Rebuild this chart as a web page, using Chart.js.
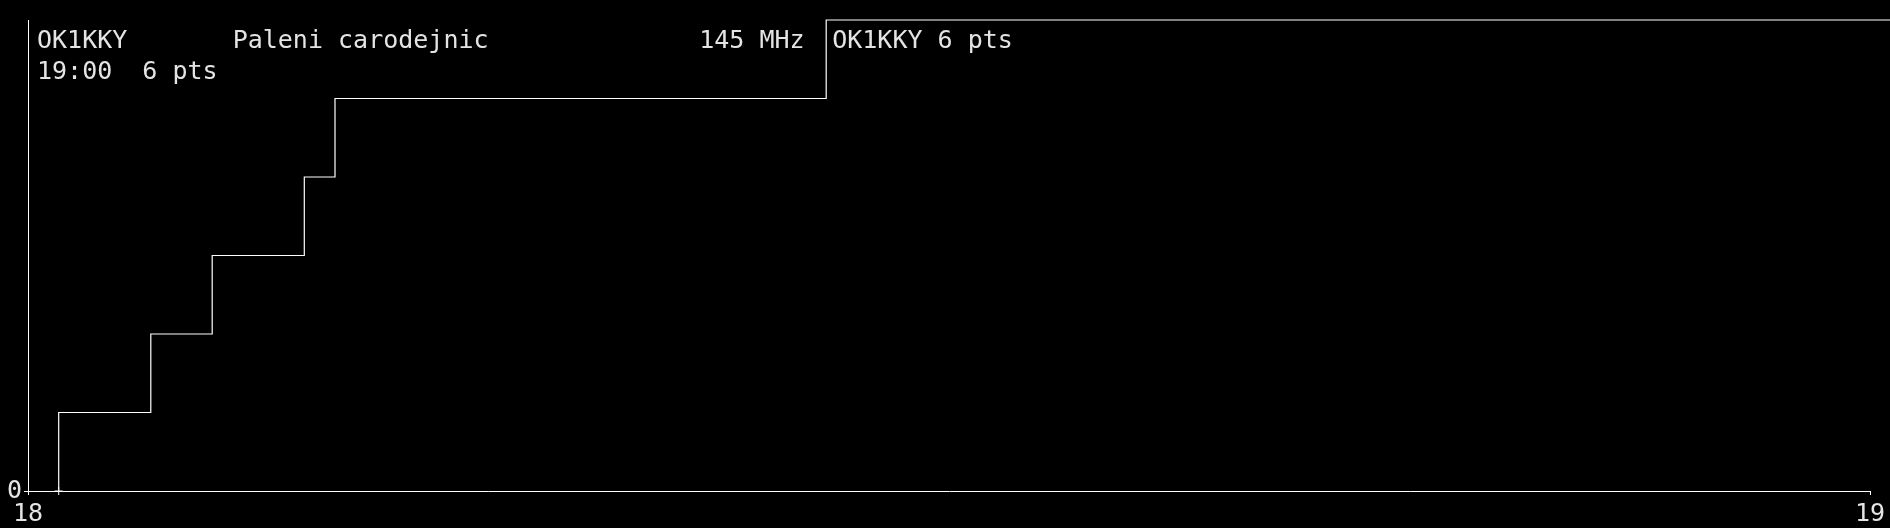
<!DOCTYPE html>
<html>
<head>
<meta charset="utf-8">
<script src="https://cdn.jsdelivr.net/npm/chart.js@4"></script>
<style>
  html, body { margin: 0; padding: 0; background: #000; }
  canvas { display: block; }
</style>
</head>
<body>
<canvas id="scoreChart" width="1890" height="528"></canvas>
<script>
// Contest info
const callsign = 'OK1KKY';
const contestName = 'Paleni carodejnic';
const band = '145 MHz';
const endTime = '19:00';

// QSO times and running score (stepped line)
const qsoTimes = ['18:01', '18:01', '18:04', '18:06', '18:09', '18:10', '18:26', '19:01'];
const scoreValues = [0, 1, 2, 3, 4, 5, 6, 6];

// Axis ticks
const xTickLabels = ['18', '19'];
const yTickValues = [0];

const FONT = '"DejaVu Sans Mono", "Liberation Mono", monospace';
const TEXT = '#e4e4e4';

function toMinutes(t) {
    const parts = t.split(':').map(Number);
    return (parts[0] - 18) * 60 + parts[1];
}

const points = qsoTimes.map((t, i) => ({ x: toMinutes(t), y: scoreValues[i] }));
const totalScore = scoreValues[scoreValues.length - 1];
const lastQso = points[points.length - 2].x;

// Header text + label next to last step
const headerPlugin = {
    id: 'header',
    afterDraw(chart) {
        const c = chart.ctx;
        c.save();
        c.font = '25px ' + FONT;
        c.fillStyle = TEXT;
        c.textBaseline = 'alphabetic';
        const cw = c.measureText('M').width;
        const x0 = 37;
        c.fillText(callsign, x0, 48);
        c.fillText(contestName, x0 + 13 * cw, 48);
        c.fillText(band, x0 + 44 * cw, 48);
        c.fillText(endTime, x0, 79);
        c.fillText(totalScore + ' pts', x0 + 7 * cw, 79);

        const px = chart.scales.x.getPixelForValue(lastQso);
        c.fillText(callsign + ' ' + totalScore + ' pts', px + 6, 48);
        c.restore();
    }
};

new Chart(document.getElementById('scoreChart'), {
    type: 'line',
    data: {
        datasets: [{
            data: points,
            borderColor: '#ffffff',
            borderWidth: 1.2,
            stepped: 'before',
            fill: false,
            clip: false,
            pointStyle: 'cross',
            pointRadius: points.map((p, i) => i === 0 ? 4 : 0),
            pointBorderColor: '#ffffff',
            pointBorderWidth: 1
        }]
    },
    options: {
        responsive: false,
        animation: false,
        devicePixelRatio: 1,
        layout: { padding: { top: 20, right: 20, left: 0, bottom: 0 } },
        plugins: {
            legend: { display: false },
            tooltip: { enabled: false }
        },
        scales: {
            x: {
                type: 'linear',
                min: 0,
                max: 60,
                afterBuildTicks: axis => {
                    axis.ticks = xTickLabels.map((l, i) => ({ value: i * 60 }));
                },
                afterFit: axis => { axis.height = 37; },
                ticks: {
                    color: TEXT,
                    font: { family: FONT, size: 25 },
                    padding: 4,
                    maxRotation: 0,
                    autoSkip: false,
                    callback: (v) => xTickLabels[Math.round(v / 60)]
                },
                grid: { drawOnChartArea: false, color: '#ffffff', tickLength: 4 },
                border: { color: '#ffffff', width: 1 }
            },
            y: {
                min: 0,
                max: totalScore,
                afterBuildTicks: axis => {
                    axis.ticks = yTickValues.map(v => ({ value: v }));
                },
                afterFit: axis => { axis.width = 28; },
                ticks: {
                    color: TEXT,
                    font: { family: FONT, size: 25 },
                    padding: 2,
                    callback: (v) => String(v)
                },
                grid: { drawOnChartArea: false, color: '#ffffff', tickLength: 4 },
                border: { color: '#ffffff', width: 1 }
            }
        }
    },
    plugins: [headerPlugin]
});
</script>
</body>
</html>
